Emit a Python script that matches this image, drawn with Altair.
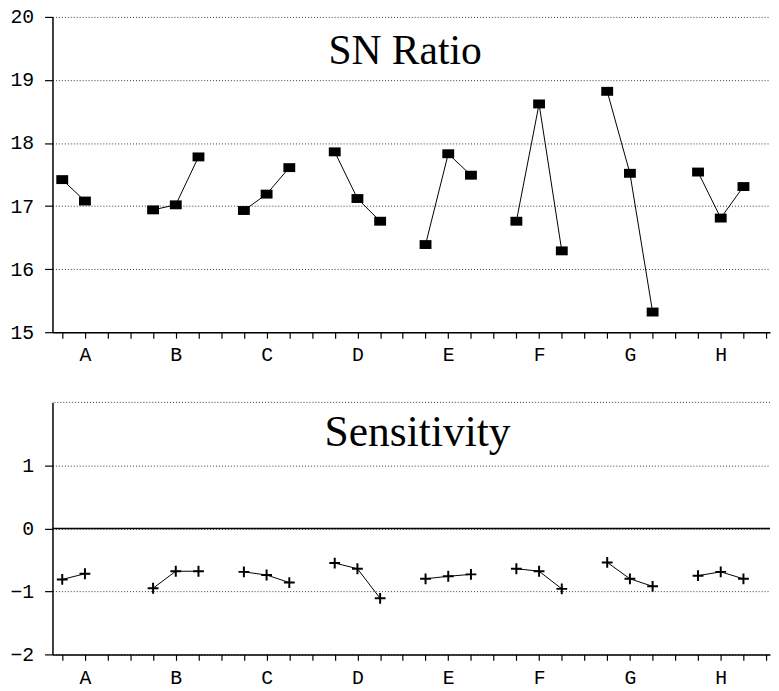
import altair as alt
import pandas as pd

# ---- data ----
factors = ["A", "B", "C", "D", "E", "F", "G", "H"]
sn_ratio = [
    [17.42, 17.08],
    [16.94, 17.02, 17.78],
    [16.93, 17.19, 17.61],
    [17.86, 17.12, 16.76],
    [16.39, 17.83, 17.49],
    [16.76, 18.62, 16.29],
    [18.82, 17.52, 15.32],
    [17.54, 16.81, 17.31],
]
sensitivity = [
    [-0.81, -0.72],
    [-0.95, -0.68, -0.68],
    [-0.69, -0.74, -0.86],
    [-0.55, -0.64, -1.11],
    [-0.80, -0.76, -0.73],
    [-0.64, -0.68, -0.96],
    [-0.54, -0.80, -0.92],
    [-0.75, -0.69, -0.80],
]
slots_per_factor = 4
x_ticks = list(range(32))
sn_y_ticks = [15, 16, 17, 18, 19, 20]
sens_y_ticks = [-2, -1, 0, 1]
sens_extra_grid = [2]
sens_zero = [0]


def to_frame(values):
    rows = []
    for i, levels in enumerate(values):
        for j, v in enumerate(levels):
            rows.append({"factor": factors[i], "pos": slots_per_factor * i + j, "value": v})
    return pd.DataFrame(rows)


sn_df = to_frame(sn_ratio)
sens_df = to_frame(sensitivity)

label_arr = "[" + ",".join("'" + f + "'" for f in factors) + "]"
label_expr = "(datum.value - 1) % 4 == 0 ? " + label_arr + "[(datum.value - 1) / 4] : ''"

X_DOMAIN = [-0.43, 31.17]
W = 726

mono = "Liberation Mono"
serif = "Liberation Serif"


def x_enc():
    return alt.X(
        "pos:Q",
        scale=alt.Scale(domain=X_DOMAIN, nice=False, zero=False),
        axis=alt.Axis(
            values=x_ticks, labelExpr=label_expr, title=None, grid=False,
            tickSize=6, labelPadding=7, labelFont=mono, labelFontSize=20,
            labelFontWeight="normal",
            labelColor="black", domainColor="black", domainWidth=1.5,
            tickColor="black", tickWidth=1.2, labelFlush=False,
        ),
    )


def y_axis(values):
    return alt.Axis(
        values=values, title=None, grid=True, gridDash=[1, 2], gridColor="black",
        gridOpacity=0.8, gridWidth=1, tickSize=8, labelPadding=11,
        labelFont=mono, labelFontSize=20, labelColor="black",
        domainColor="black", domainWidth=1.5, tickColor="black", tickWidth=1.2,
    )


square = "M-1,-0.75L1,-0.75L1,0.75L-1,0.75Z"
plus = "M-1,0L1,0M0,-1L0,1"

# ---- top: SN ratio ----
sn_y = alt.Y("value:Q", scale=alt.Scale(domain=[15, 20], nice=False, zero=False),
             axis=y_axis(sn_y_ticks))
sn_lines = alt.Chart(sn_df).mark_line(color="black", strokeWidth=1).encode(
    x=x_enc(), y=sn_y, detail="factor:N")
sn_pts = alt.Chart(sn_df).mark_point(shape=square, filled=True, fill="black",
                                     strokeWidth=0, size=144, opacity=1).encode(
    x=x_enc(), y=sn_y)
sn_title = alt.Chart(pd.DataFrame({"t": ["SN Ratio"], "pos": [15.1], "value": [19.25]})).mark_text(
    font=serif, fontSize=42, baseline="alphabetic", align="center", color="black").encode(
    x=x_enc(), y=sn_y, text="t:N")
top = alt.layer(sn_lines, sn_pts, sn_title).properties(width=W, height=319)

# ---- bottom: sensitivity ----
sens_y = alt.Y("value:Q", scale=alt.Scale(domain=[-2, 2], nice=False, zero=False),
               axis=y_axis(sens_y_ticks))
grid2 = alt.Chart(pd.DataFrame({"value": sens_extra_grid})).mark_rule(
    color="black", strokeDash=[1, 2], strokeWidth=1, opacity=0.8).encode(y=sens_y)
zero = alt.Chart(pd.DataFrame({"value": sens_zero})).mark_rule(
    color="black", strokeWidth=1.5).encode(y=sens_y)
sens_lines = alt.Chart(sens_df).mark_line(color="black", strokeWidth=1).encode(
    x=x_enc(), y=sens_y, detail="factor:N")
sens_pts = alt.Chart(sens_df).mark_point(shape=plus, filled=False, stroke="black",
                                         strokeWidth=2, size=120, opacity=1).encode(
    x=x_enc(), y=sens_y)
sens_title = alt.Chart(pd.DataFrame({"t": ["Sensitivity"], "pos": [15.65], "value": [1.30]})).mark_text(
    font=serif, fontSize=44, baseline="alphabetic", align="center", color="black").encode(
    x=x_enc(), y=sens_y, text="t:N")
bottom = alt.layer(grid2, zero, sens_lines, sens_pts, sens_title).properties(width=W, height=255)

chart = alt.vconcat(top, bottom, spacing=37).properties(
    padding={"left": 1, "top": -5, "right": 0, "bottom": 0},
    background="white",
).configure_view(stroke=None)

chart.save("out.html", embed_options={"renderer": "svg", "actions": False})
